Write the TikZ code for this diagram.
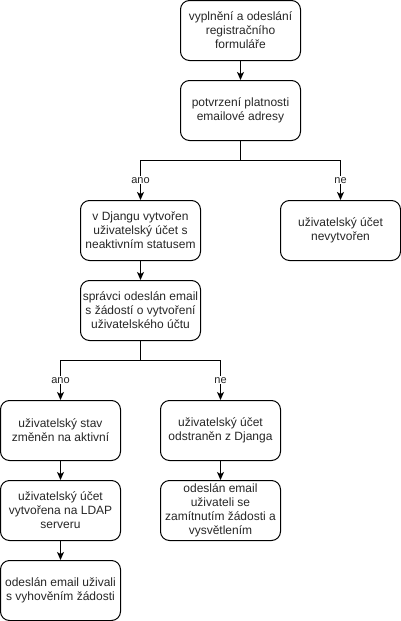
\documentclass[tikz,border=0pt]{standalone}
\usepackage{fontspec}
\setmainfont{Liberation Sans}
\usetikzlibrary{arrows.meta}
\begin{document}
\begin{tikzpicture}[x=1pt,y=1pt,
  box/.style={draw=black, line width=1pt, rounded corners=9pt, minimum width=120pt, minimum height=60pt, inner sep=0pt, align=center, font=\fontsize{12}{14}\selectfont, text=black!85},
  arr/.style={line width=1pt, -{Stealth[length=8pt,width=7pt,inset=2pt]}},
  lab/.style={fill=white, inner sep=1pt, font=\fontsize{11}{13}\selectfont, text=black!85}]
\useasboundingbox (0,0) rectangle (401,-621);
\node[box] (b1) at (240.5,-30.5) {vyplnění a odeslání\\registračního\\formuláře};
\node[box] (b2) at (240.5,-110.5) {potvrzení platnosti\\emailové adresy};
\node[box] (b3) at (140.5,-230.5) {v Djangu vytvořen\\uživatelský účet s\\neaktivním statusem};
\node[box] (b4) at (340.5,-230.5) {uživatelský účet\\nevytvořen};
\node[box] (b5) at (140.5,-310.5) {správci odeslán email\\s žádostí o vytvoření\\uživatelského účtu};
\node[box] (b6) at (60.5,-430.5) {uživatelský stav\\změněn na aktivní};
\node[box] (b7) at (220.5,-430.5) {uživatelský účet\\odstraněn z Djanga};
\node[box] (b8) at (60.5,-510.5) {uživatelský účet\\vytvořena na LDAP\\serveru};
\node[box] (b9) at (220.5,-510.5) {odeslán email\\uživateli se\\zamítnutím žádosti a\\vysvětlením};
\node[box] (b10) at (60.5,-590.5) {odeslán email uživali\\s vyhověním žádosti};
\coordinate (j1) at (240.5,-160.5);
\coordinate (j2) at (140.5,-360.5);
\draw[arr] (b1) -- (b2);
\draw[arr] (b2.south) -- (j1) -| node[pos=0.75,lab]{ano} (b3.north);
\draw[arr] (j1) -| node[pos=0.75,lab]{ne} (b4.north);
\draw[arr] (b3) -- (b5);
\draw[arr] (b5.south) -- (j2) -| node[pos=0.75,lab]{ano} (b6.north);
\draw[arr] (j2) -| node[pos=0.75,lab]{ne} (b7.north);
\draw[arr] (b6) -- (b8);
\draw[arr] (b8) -- (b10);
\draw[arr] (b7) -- (b9);
\end{tikzpicture}
\end{document}
